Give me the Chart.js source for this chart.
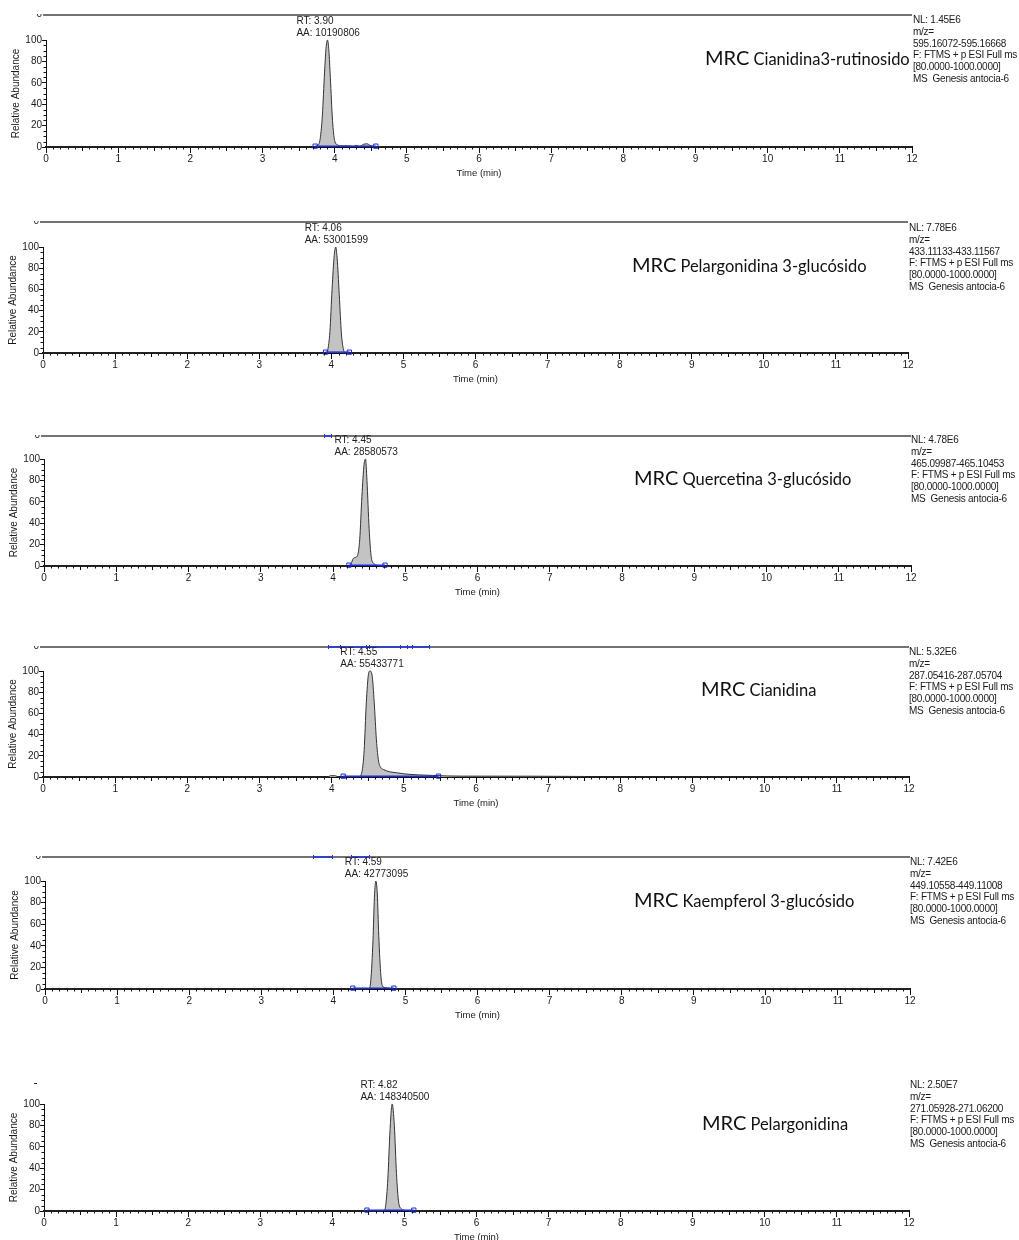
<!DOCTYPE html>
<html>
<head>
<meta charset="utf-8">
<script src="https://cdn.jsdelivr.net/npm/chart.js@4/dist/chart.umd.min.js"></script>
<style>
  body { margin: 0; background: #fff; }
  #page { position: relative; width: 1019px; height: 1240px; overflow: hidden; background: #fff; }
  #page canvas { position: absolute; }
  .info {
    position: absolute; font-family: "Liberation Sans", Arial, sans-serif;
    font-size: 10px; line-height: 11.8px; color: #1a1a1a; letter-spacing: -0.25px;
    white-space: pre;
  }
  .title {
    position: absolute; font-family: Lato, "Open Sans", sans-serif; color: #111;
    white-space: nowrap; line-height: 22px; height: 22px;
  }
  .title b { font-weight: normal; font-size: 20px; }
  .title span { font-size: 16.5px; }
</style>
</head>
<body>
<div id="page"></div>
<script>
// ----------------- Data -----------------

const xTicks = [0, 1, 2, 3, 4, 5, 6, 7, 8, 9, 10, 11, 12];
const yTicks = [0, 20, 40, 60, 80, 100];

const compounds = [
  "Cianidina3-rutinosido",
  "Pelargonidina 3-glucósido",
  "Quercetina 3-glucósido",
  "Cianidina",
  "Kaempferol 3-glucósido",
  "Pelargonidina",
];
const rtLabels = ["3.90", "4.06", "4.45", "4.55", "4.59", "4.82"];
const rtValues = [3.90, 4.06, 4.45, 4.55, 4.59, 4.82];
const areaLabels = ["10190806", "53001599", "28580573", "55433771", "42773095", "148340500"];
const nlLabels = ["1.45E6", "7.78E6", "4.78E6", "5.32E6", "7.42E6", "2.50E7"];
const mzRanges = [
  "595.16072-595.16668",
  "433.11133-433.11567",
  "465.09987-465.10453",
  "287.05416-287.05704",
  "449.10558-449.11008",
  "271.05928-271.06200",
];

// integration baseline start / end (min)
const intStart = [3.73, 3.92, 4.22, 4.16, 4.27, 4.48];
const intEnd = [4.57, 4.25, 4.72, 5.48, 4.84, 5.13];

// chromatogram traces (time in min, relative abundance %)
const p1Time = [0, 3.70, 3.76, 3.80, 3.83, 3.86, 3.88, 3.90, 3.92, 3.94, 3.97, 4.00, 4.04, 4.10, 4.20, 4.26, 4.30, 4.34, 4.40, 4.45, 4.49, 4.55, 4.70, 12];
const p1Abund = [0, 0, 1, 8, 30, 70, 92, 100, 90, 65, 25, 6, 2, 1, 1, 0.5, 1.5, 0.5, 2.5, 3, 1.5, 0.3, 0, 0];

const p2Time = [0, 3.92, 3.95, 3.98, 4.01, 4.04, 4.06, 4.08, 4.11, 4.14, 4.17, 4.20, 12];
const p2Abund = [0, 0, 3, 20, 60, 92, 100, 90, 55, 18, 3, 0, 0];

const p3Time = [0, 4.22, 4.25, 4.28, 4.31, 4.34, 4.37, 4.40, 4.43, 4.45, 4.47, 4.50, 4.53, 4.57, 4.62, 4.70, 12];
const p3Abund = [0, 0, 2, 7, 8, 10, 25, 65, 95, 100, 80, 35, 8, 2, 0.5, 0, 0];

const p4Time = [0, 3.95, 3.98, 4.05, 4.10, 4.38, 4.42, 4.45, 4.48, 4.51, 4.53, 4.56, 4.59, 4.62, 4.65, 4.68, 4.72, 4.80, 4.90, 5.00, 5.20, 5.40, 5.60, 6.00, 7.50, 7.52, 12];
const p4Abund = [0, 0, 1.2, 1.2, 0, 0.5, 5, 25, 70, 97, 100, 96, 70, 35, 15, 9, 7, 5, 4, 3, 2, 1.5, 1, 0.8, 0.5, 0, 0];

const p5Time = [0, 4.49, 4.52, 4.55, 4.57, 4.59, 4.61, 4.63, 4.66, 4.69, 4.75, 4.82, 12];
const p5Abund = [0, 0, 8, 45, 85, 100, 88, 50, 12, 2, 1, 0, 0];

const p6Time = [0, 4.71, 4.74, 4.77, 4.80, 4.83, 4.86, 4.89, 4.92, 4.96, 5.01, 5.10, 12];
const p6Abund = [0, 0, 5, 30, 75, 100, 80, 35, 8, 2, 0.5, 0, 0];

const traceTimes = [p1Time, p2Time, p3Time, p4Time, p5Time, p6Time];
const traceAbunds = [p1Abund, p2Abund, p3Abund, p4Abund, p5Abund, p6Abund];

// bits of the previous (cropped) trace visible on the top line
const topSegments = [[], [], [[3.88, 3.97]], [[3.95, 5.35]], [[3.72, 3.98], [4.25, 4.50]], []];
const topMarks = [[], [], [3.88, 3.97], [3.95, 4.12, 4.48, 4.52, 4.95, 5.05, 5.12, 5.35], [3.72, 3.98, 4.25, 4.50], []];

// ----------------- Layout (page pixels) -----------------

const panels = [
  { x0: 46, x12: 912, y100: 40, y0: 147, top: 15, titleX: 705, titleY: 57, infoX: 913, infoY: 14 },
  { x0: 43, x12: 908, y100: 247, y0: 353, top: 222, titleX: 632, titleY: 264, infoX: 909, infoY: 222 },
  { x0: 44, x12: 911, y100: 459, y0: 566, top: 436, titleX: 634, titleY: 477, infoX: 911, infoY: 434 },
  { x0: 43, x12: 909, y100: 671, y0: 777, top: 647, titleX: 701, titleY: 688, infoX: 909, infoY: 646 },
  { x0: 45, x12: 910, y100: 881, y0: 989, top: 857, titleX: 634, titleY: 899, infoX: 910, infoY: 856 },
  { x0: 44, x12: 909, y100: 1104, y0: 1211, top: null, titleX: 702, titleY: 1122, infoX: 910, infoY: 1079 },
];

const Y_AXIS_W = 36;
const X_AXIS_H = 32;
const RIGHT_PAD = 12;
const FONT = "'Liberation Sans', Arial, sans-serif";

// ----------------- Plugins -----------------

const chromExtras = {
  id: "chromExtras",
  afterDraw(chart, args, opts) {
    const ctx = chart.ctx;
    const xs = chart.scales.x;
    const ys = chart.scales.y;
    ctx.save();

    // minor ticks
    ctx.strokeStyle = "#111";
    ctx.lineWidth = 1;
    ctx.beginPath();
    for (let i = 1; i < 120; i++) {
      if (i % 10 === 0) continue;
      const px = Math.round(xs.getPixelForValue(i / 10)) + 0.5;
      const len = i % 5 === 0 ? 4 : 2.5;
      ctx.moveTo(px, ys.bottom);
      ctx.lineTo(px, ys.bottom + len);
    }
    for (let v = 5; v < 100; v += 5) {
      if (v % 20 === 0) continue;
      const py = Math.round(ys.getPixelForValue(v)) + 0.5;
      ctx.moveTo(xs.left, py);
      ctx.lineTo(xs.left - 2.5, py);
    }
    ctx.stroke();

    // top line from the cropped panel above
    if (opts.topY !== null) {
      const ty = opts.topY;
      ctx.strokeStyle = "#444";
      ctx.lineWidth = 1.5;
      ctx.beginPath();
      ctx.moveTo(xs.left - 3, ty);
      ctx.lineTo(xs.right, ty);
      ctx.stroke();

      ctx.save();
      ctx.beginPath();
      ctx.rect(0, ty - 1, xs.left, 10);
      ctx.clip();
      ctx.fillStyle = "#222";
      ctx.font = "10px " + FONT;
      ctx.textAlign = "right";
      ctx.textBaseline = "middle";
      ctx.fillText("0", xs.left - 4, ty - 1);
      ctx.restore();

      ctx.strokeStyle = "#2233dd";
      ctx.lineWidth = 1.5;
      ctx.beginPath();
      opts.segments.forEach(([a, b]) => {
        ctx.moveTo(xs.getPixelForValue(a), ty);
        ctx.lineTo(xs.getPixelForValue(b), ty);
      });
      ctx.stroke();
      ctx.lineWidth = 1;
      ctx.beginPath();
      opts.marks.forEach((m) => {
        const px = Math.round(xs.getPixelForValue(m)) + 0.5;
        ctx.moveTo(px, ty - 2);
        ctx.lineTo(px, ty + 2);
      });
      ctx.stroke();
    } else {
      ctx.strokeStyle = "#222";
      ctx.lineWidth = 1;
      ctx.beginPath();
      ctx.moveTo(xs.left - 10, opts.dashY + 0.5);
      ctx.lineTo(xs.left - 7, opts.dashY + 0.5);
      ctx.stroke();
    }

    // RT / AA annotation above the peak
    const px = xs.getPixelForValue(opts.rt);
    ctx.fillStyle = "#222";
    ctx.font = "10px " + FONT;
    ctx.textAlign = "left";
    ctx.textBaseline = "middle";
    ctx.fillText("RT: " + opts.rtLabel, px - 31, ys.top - 19);
    ctx.fillText("AA: " + opts.aaLabel, px - 31, ys.top - 7);

    ctx.restore();
  },
};

// ----------------- Build panels -----------------

const page = document.getElementById("page");

panels.forEach((p, i) => {
  const topRef = p.top !== null ? p.top : p.y100 - 25;
  const canvasTop = topRef - 8;
  const canvasLeft = p.x0 - Y_AXIS_W;
  const width = (p.x12 - p.x0) + Y_AXIS_W + RIGHT_PAD;
  const height = (p.y0 - canvasTop) + X_AXIS_H;

  const canvas = document.createElement("canvas");
  canvas.width = width;
  canvas.height = height;
  canvas.style.left = canvasLeft + "px";
  canvas.style.top = canvasTop + "px";
  canvas.style.width = width + "px";
  canvas.style.height = height + "px";
  page.appendChild(canvas);

  const trace = traceTimes[i].map((t, k) => ({ x: t, y: traceAbunds[i][k] }));

  new Chart(canvas.getContext("2d"), {
    type: "line",
    data: {
      datasets: [
        {
          data: trace,
          borderColor: "#333",
          borderWidth: 1,
          backgroundColor: "#c3c3c3",
          fill: "origin",
          pointRadius: 0,
          cubicInterpolationMode: "monotone",
          clip: 6,
          order: 1,
        },
        {
          data: [{ x: intStart[i], y: 0.8 }, { x: intEnd[i], y: 0.8 }],
          borderColor: "#1a2bd6",
          borderWidth: 1.5,
          pointStyle: "rect",
          pointRadius: 3,
          pointBackgroundColor: "rgba(255,255,255,0)",
          pointBorderColor: "#1a2bd6",
          pointBorderWidth: 1,
          fill: false,
          clip: 6,
          order: 0,
        },
      ],
    },
    options: {
      responsive: false,
      animation: false,
      events: [],
      layout: {
        padding: { left: 0, right: RIGHT_PAD, top: p.y100 - canvasTop, bottom: 0 },
      },
      plugins: {
        legend: { display: false },
        tooltip: { enabled: false },
        chromExtras: {
          topY: p.top !== null ? p.top - canvasTop : null,
          dashY: 1083 - canvasTop,
          segments: topSegments[i],
          marks: topMarks[i],
          rt: rtValues[i],
          rtLabel: rtLabels[i],
          aaLabel: areaLabels[i],
        },
      },
      scales: {
        x: {
          type: "linear",
          min: 0,
          max: 12,
          afterBuildTicks: (axis) => {
            axis.ticks = xTicks.map((v) => ({ value: v }));
          },
          afterFit: (axis) => {
            axis.height = X_AXIS_H;
          },
          grid: {
            drawOnChartArea: false,
            drawTicks: true,
            tickLength: 6,
            tickColor: "#111",
            tickWidth: 1,
          },
          border: { display: true, color: "#111", width: 2 },
          ticks: {
            color: "#1a1a1a",
            padding: 0,
            maxRotation: 0,
            autoSkip: false,
            font: { family: FONT, size: 10 },
          },
          title: {
            display: true,
            text: "Time (min)",
            color: "#1a1a1a",
            padding: 0,
            font: { family: FONT, size: 9.5 },
          },
        },
        y: {
          type: "linear",
          min: 0,
          max: 100,
          afterBuildTicks: (axis) => {
            axis.ticks = yTicks.map((v) => ({ value: v }));
          },
          afterFit: (axis) => {
            axis.width = Y_AXIS_W;
          },
          grid: {
            drawOnChartArea: false,
            drawTicks: true,
            tickLength: 4,
            tickColor: "#111",
            tickWidth: 1,
          },
          border: { display: true, color: "#111", width: 1 },
          ticks: {
            color: "#1a1a1a",
            padding: 0,
            autoSkip: false,
            font: { family: FONT, size: 10 },
          },
          title: {
            display: true,
            text: "Relative Abundance",
            color: "#1a1a1a",
            padding: 0,
            font: { family: FONT, size: 10 },
          },
        },
      },
    },
    plugins: [chromExtras],
  });

  const title = document.createElement("div");
  title.className = "title";
  title.style.left = p.titleX + "px";
  title.style.top = (p.titleY - 11) + "px";
  title.innerHTML = "<b>MRC</b> <span></span>";
  title.querySelector("span").textContent = compounds[i];
  page.appendChild(title);

  const info = document.createElement("div");
  info.className = "info";
  info.style.left = p.infoX + "px";
  info.style.top = p.infoY + "px";
  info.textContent = [
    "NL: " + nlLabels[i],
    "m/z=",
    mzRanges[i],
    "F: FTMS + p ESI Full ms",
    "[80.0000-1000.0000]",
    "MS  Genesis antocia-6",
  ].join("\n");
  page.appendChild(info);
});
</script>
</body>
</html>
